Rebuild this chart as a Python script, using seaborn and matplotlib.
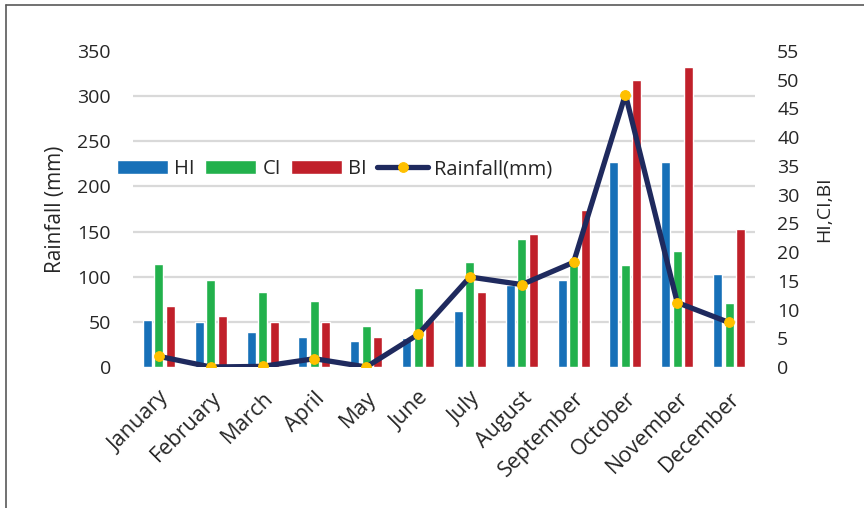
import numpy as np
import pandas as pd
import matplotlib
matplotlib.use("Agg")
import matplotlib.pyplot as plt
from matplotlib.lines import Line2D
import seaborn as sns

# Monthly values
months = ["January", "February", "March", "April", "May", "June",
          "July", "August", "September", "October", "November", "December"]
hi = [8.2, 7.75, 6.1, 5.3, 4.45, 5.1, 9.7, 14.2, 15.1, 35.6, 35.6, 16.2]
ci = [17.9, 15.2, 13.0, 11.45, 7.2, 13.8, 18.3, 22.3, 18.6, 17.8, 20.2, 11.2]
bi = [10.6, 8.9, 7.9, 7.75, 5.15, 8.1, 13.1, 23.1, 27.3, 49.9, 52.3, 24.1]
rainfall = [11.8, 0.0, 0.7, 9.2, 0.0, 36.1, 99.7, 91.3, 115.9, 301.8, 71.4, 49.3]

index_names = ["HI", "CI", "BI"]
index_colors = ["#1770B8", "#22B14C", "#C0202A"]
rain_label = "Rainfall(mm)"
rain_ticks = list(range(0, 351, 50))
index_ticks = list(range(0, 56, 5))

sns.set_theme(style="white")
plt.rcParams["font.family"] = ["Open Sans", "DejaVu Sans"]
text_color = "#262626"
fs = 14

fig = plt.figure(figsize=(8.64, 5.08), dpi=100)
W, H = 864, 508
ax = fig.add_axes([133 / W, 1 - 367 / H, 622 / W, 316 / H])

df = pd.DataFrame({
    "Month": months * 3,
    "Index": [n for n in index_names for _ in months],
    "Value": hi + ci + bi,
})
sns.barplot(data=df, x="Month", y="Value", hue="Index", order=months,
            hue_order=index_names, palette=index_colors, saturation=1,
            width=0.667, gap=0.22, ax=ax)
bar_handles, bar_labels = ax.get_legend_handles_labels()
if ax.legend_ is not None:
    ax.legend_.remove()

# rainfall line on a twin axis
ax_rain = ax.twinx()
sns.lineplot(x=np.arange(len(months)), y=rainfall, ax=ax_rain,
             color="#1F2A5E", linewidth=3.8, marker="o", markersize=7,
             markerfacecolor="#FFC000", markeredgecolor="#FFC000",
             label=rain_label)
if ax_rain.legend_ is not None:
    ax_rain.legend_.remove()

# index axis (bars) on the right
ax.set_ylim(0, 55)
ax.set_yticks(index_ticks)
ax.yaxis.tick_right()
ax.yaxis.set_label_position("right")
ax.set_ylabel("HI,CI,BI", fontsize=fs, color=text_color, labelpad=11)
# horizontal grid follows the rainfall scale, kept behind the bars
ax.set_yticks([t * 55 / 350 for t in rain_ticks], minor=True)
ax.grid(False, which="major")
ax.grid(True, which="minor", axis="y", color="#D9D9D9", linewidth=1.6)
ax.set_axisbelow(True)
ax.tick_params(axis="y", which="both", length=0, pad=16, labelsize=fs,
               labelcolor=text_color)
ax.set_xlabel("")
ax.set_xticks(range(len(months)))
ax.set_xticklabels(months, rotation=45, ha="right", rotation_mode="anchor",
                   fontsize=15.5, color=text_color)
ax.tick_params(axis="x", length=0, pad=15)
for s in ax.spines.values():
    s.set_visible(False)

# rainfall axis on the left
ax_rain.set_xlim(-0.5, len(months) - 0.5)
ax_rain.set_ylim(0, 350)
ax_rain.set_yticks(rain_ticks)
ax_rain.yaxis.tick_left()
ax_rain.yaxis.set_label_position("left")
ax_rain.set_ylabel("Rainfall (mm)", fontsize=15, color=text_color, labelpad=8)
ax_rain.tick_params(axis="y", length=0, pad=16, labelsize=fs,
                    labelcolor=text_color)
ax_rain.grid(False)
for s in ax_rain.spines.values():
    s.set_visible(False)

line_handles, line_labels = ax_rain.get_legend_handles_labels()
fig.legend(bar_handles + line_handles, bar_labels + line_labels,
           loc="center left", bbox_to_anchor=(117 / W, 1 - 169 / H),
           ncol=4, frameon=False, fontsize=14.5, handlelength=2.55,
           handleheight=0.68, handletextpad=0.3, columnspacing=0.5,
           borderpad=0, borderaxespad=0, labelcolor=text_color)

# chart frame
frame_kw = dict(color="#595959", linewidth=1.2, transform=fig.transFigure)
fig.add_artist(Line2D([6 / W, 6 / W], [0, 1 - 5 / H], **frame_kw))
fig.add_artist(Line2D([6 / W, 1], [1 - 5 / H, 1 - 5 / H], **frame_kw))

fig.savefig("out.png", dpi=100)
